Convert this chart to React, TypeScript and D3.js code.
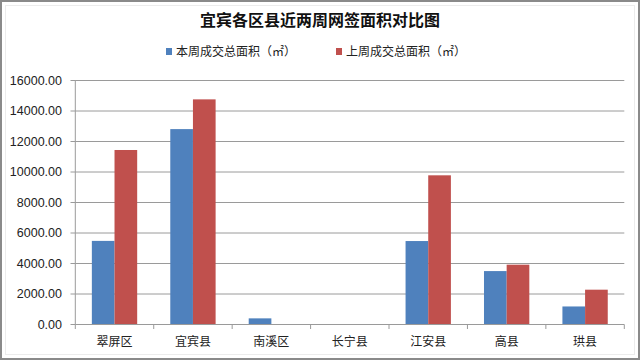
import React from "react";
import { scaleBand, scaleLinear } from "d3";

const categories = ["翠屏区", "宜宾县", "南溪区", "长宁县", "江安县", "高县", "珙县"];
const thisWeek = [5450, 12780, 370, 0, 5440, 3470, 1150];
const lastWeek = [11410, 14730, 0, 0, 9750, 3890, 2250];
const seriesNames = ["本周成交总面积（㎡）", "上周成交总面积（㎡）"];
const yTicks = [0, 2000, 4000, 6000, 8000, 10000, 12000, 14000, 16000];
const title = "宜宾各区县近两周网签面积对比图";

const W = 640;
const H = 360;
const colors = ["#4F81BD", "#C0504D"];

export default function App() {
  const x = scaleBand().domain(categories).range([75.3, 624.3]);
  const y = scaleLinear().domain([0, 16000]).range([324, 80]);
  const step = x.step();
  const barW = step * 0.289;
  const pad = (step - 2 * barW) / 2;
  const series = [thisWeek, lastWeek];
  const labelFont = "'Liberation Sans', Arial, sans-serif";
  const cjkFont = "'Noto Sans CJK SC', sans-serif";

  return (
    <div style={{ position: "fixed", left: 0, top: 0 }}>
      <svg width={W} height={H} style={{ display: "block", background: "#fff" }}>
        <rect x={1} y={1} width={W - 2} height={H - 2} fill="#fff" stroke="#8a8a8a" strokeWidth={2} />
        <rect x={5.5} y={5.5} width={W - 11} height={H - 11} fill="none" stroke="#ececec" strokeWidth={1} />

        <text x={320} y={26} textAnchor="middle" fontFamily={cjkFont} fontWeight="bold" fontSize={16} fill="#111">
          {title}
        </text>

        {seriesNames.map((name, i) => {
          const lx = i === 0 ? 166 : 336;
          return (
            <g key={name}>
              <rect x={lx} y={48} width={6} height={7} fill={colors[i]} />
              <text x={lx + 10} y={55.5} fontFamily={cjkFont} fontSize={12} fill="#222">
                {name}
              </text>
            </g>
          );
        })}

        {yTicks.map((t) => (
          <g key={t}>
            {t > 0 && (
              <line x1={75.3} x2={624.3} y1={y(t) + 0.5} y2={y(t) + 0.5} stroke="#9a9a9a" strokeWidth={1} />
            )}
            <line x1={70.5} x2={75.3} y1={y(t) + 0.5} y2={y(t) + 0.5} stroke="#9a9a9a" strokeWidth={1} />
            <text
              x={62}
              y={y(t) + 0.5}
              dy="0.35em"
              textAnchor="end"
              fontFamily={labelFont}
              fontSize={12.5}
              fill="#222"
            >
              {t.toFixed(2)}
            </text>
          </g>
        ))}

        <line x1={75.3} x2={75.3} y1={80} y2={324.5} stroke="#9a9a9a" strokeWidth={1} />

        {series.map((vals, si) =>
          categories.map((c, ci) => {
            const v = vals[ci];
            if (v <= 0) return null;
            const bx = x(c)! + pad + si * barW;
            return (
              <rect key={c + si} x={bx} y={y(v)} width={barW} height={y(0) - y(v)} fill={colors[si]} />
            );
          })
        )}

        <line x1={75.3} x2={624.3} y1={324.5} y2={324.5} stroke="#9a9a9a" strokeWidth={1} />
        {categories.map((c) => (
          <line key={c} x1={x(c)! + step} x2={x(c)! + step} y1={324.5} y2={329} stroke="#9a9a9a" strokeWidth={1} />
        ))}
        <line x1={75.3} x2={75.3} y1={324.5} y2={329} stroke="#9a9a9a" strokeWidth={1} />

        {categories.map((c) => (
          <text
            key={c}
            x={x(c)! + step / 2}
            y={345.5}
            textAnchor="middle"
            fontFamily={cjkFont}
            fontSize={12}
            fill="#222"
          >
            {c}
          </text>
        ))}
      </svg>
    </div>
  );
}
